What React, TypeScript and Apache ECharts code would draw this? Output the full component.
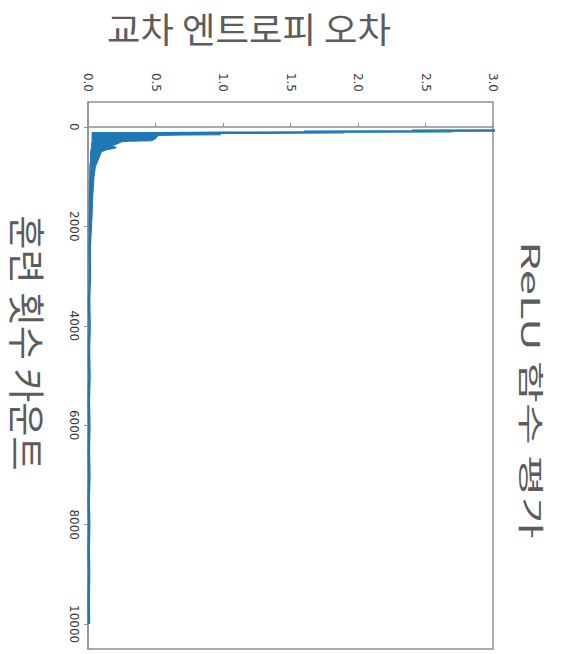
import React, { useEffect, useRef } from "react";
import * as echarts from "echarts";

// Main loss curve: training step counts and cross-entropy loss
const steps: number[] = [
  0, 70, 80, 90, 100, 110, 120, 130, 160, 200, 300, 500, 800, 1500, 2500,
  3000, 3500, 4000, 4500, 5000, 5500, 6000, 6500, 7000, 7500, 8000, 8500, 9000, 9500, 10000,
];
const losses: number[] = [
  6.5, 3.1, 2.4, 2.7, 1.6, 1.9, 1.0, 0.5, 0.3, 0.1, 0.06, 0.03, 0.02, 0.015, 0.012,
  0.014, 0.008, 0.012, 0.007, 0.011, 0.006, 0.01, 0.006, 0.01, 0.005, 0.009, 0.005, 0.008, 0.005, 0.007,
];
// Noise band of the early training (upper / lower loss envelopes per step)
const bandSteps: number[] = [
  115, 160, 165, 172, 240, 280, 290, 300, 360, 390, 410, 430, 460, 500, 600, 700, 800, 1000, 1400, 1800, 2200, 2600,
];
const bandUpper: number[] = [
  0.98, 0.98, 0.7, 0.52, 0.5, 0.47, 0.3, 0.25, 0.2, 0.17, 0.21, 0.2, 0.14, 0.1, 0.085, 0.07, 0.055, 0.045, 0.035, 0.03, 0.022, 0.015,
];
const bandLower: number[] = [
  0.03, 0.03, 0.03, 0.03, 0.03, 0.03, 0.03, 0.03, 0.025, 0.025, 0.025, 0.025, 0.022, 0.02, 0.02, 0.018, 0.016, 0.015, 0.013, 0.012, 0.011, 0.01,
];
const stepTicks: number[] = [0, 2000, 4000, 6000, 8000, 10000];
const lossTicks: number[] = [0, 0.5, 1.0, 1.5, 2.0, 2.5, 3.0];

const titleText = "ReLU 함수 평가";
const lossAxisName = "교차 엔트로피 오차";
const stepAxisName = "훈련 횟수 카운트";

export default function App() {
  const ref = useRef<HTMLDivElement>(null);
  useEffect(() => {
    if (!ref.current) return;
    const chart = echarts.init(ref.current, null, { renderer: "svg" });
    const data = steps.map((s, i) => [losses[i], s]);
    const axisGrey = "#909090";
    const blue = "#1f77b4";
    const labelStyle = {
      color: "#3a3a3a",
      fontSize: 12,
      fontFamily: "DejaVu Sans",
    };
    const nameColor = "#5c5c5c";
    chart.setOption({
      animation: false,
      backgroundColor: "#ffffff",
      grid: {
        left: 88,
        top: 102,
        right: 70,
        bottom: 5,
        show: true,
        borderColor: axisGrey,
        borderWidth: 1.5,
      },
      xAxis: {
        type: "value",
        position: "top",
        min: 0,
        max: 3,
        interval: 0.5,
        axisLine: { show: true, lineStyle: { color: axisGrey, width: 1.5 } },
        axisTick: { show: true, length: 4, lineStyle: { color: axisGrey } },
        splitLine: { show: false },
        axisLabel: {
          ...labelStyle,
          rotate: -90,
          margin: 10,
          customValues: lossTicks,
          formatter: (v: number) => v.toFixed(1),
        },
      },
      yAxis: {
        type: "value",
        inverse: true,
        min: -500,
        max: 10500,
        axisLine: { show: true, lineStyle: { color: axisGrey, width: 1.5 } },
        axisTick: {
          show: true,
          length: 4,
          lineStyle: { color: axisGrey },
          customValues: stepTicks,
        },
        splitLine: { show: false },
        axisLabel: {
          ...labelStyle,
          rotate: -90,
          margin: 8,
          customValues: stepTicks,
          formatter: (v: number) => String(v),
        },
      },
      series: [
        {
          type: "custom",
          data: [[0, 0]],
          renderItem: (_params: any, api: any) => {
            const pts: number[][] = [];
            for (let i = 0; i < bandSteps.length; i++) {
              pts.push(api.coord([bandUpper[i], bandSteps[i]]));
            }
            for (let i = bandSteps.length - 1; i >= 0; i--) {
              pts.push(api.coord([bandLower[i], bandSteps[i]]));
            }
            return {
              type: "polygon",
              shape: { points: pts },
              style: { fill: blue, stroke: blue, lineWidth: 1 },
            };
          },
          z: 2,
        },
        {
          type: "line",
          data,
          showSymbol: false,
          symbol: "none",
          clip: true,
          lineStyle: { color: blue, width: 2.5 },
          z: 3,
        },
      ],
      graphic: [
        {
          type: "text",
          x: 249,
          y: 28,
          scaleX: 1.04,
          style: {
            text: lossAxisName,
            fontSize: 35,
            fontFamily: "Noto Sans CJK KR",
            fill: nameColor,
            textAlign: "center",
            textVerticalAlign: "middle",
          },
        },
        {
          type: "text",
          x: 28,
          y: 343,
          rotation: -Math.PI / 2,
          style: {
            text: stepAxisName,
            fontSize: 37,
            fontFamily: "Noto Sans CJK KR",
            fill: nameColor,
            textAlign: "center",
            textVerticalAlign: "middle",
          },
        },
        {
          type: "text",
          x: 532,
          y: 390,
          rotation: -Math.PI / 2,
          scaleX: 1.75,
          style: {
            text: titleText,
            fontSize: 26,
            fontFamily: "Noto Sans CJK KR",
            fill: nameColor,
            textAlign: "center",
            textVerticalAlign: "middle",
          },
        },
      ],
    });
    return () => chart.dispose();
  }, []);
  return (
    <div
      ref={ref}
      style={{ position: "fixed", left: 0, top: 0, width: 563, height: 654 }}
    />
  );
}
